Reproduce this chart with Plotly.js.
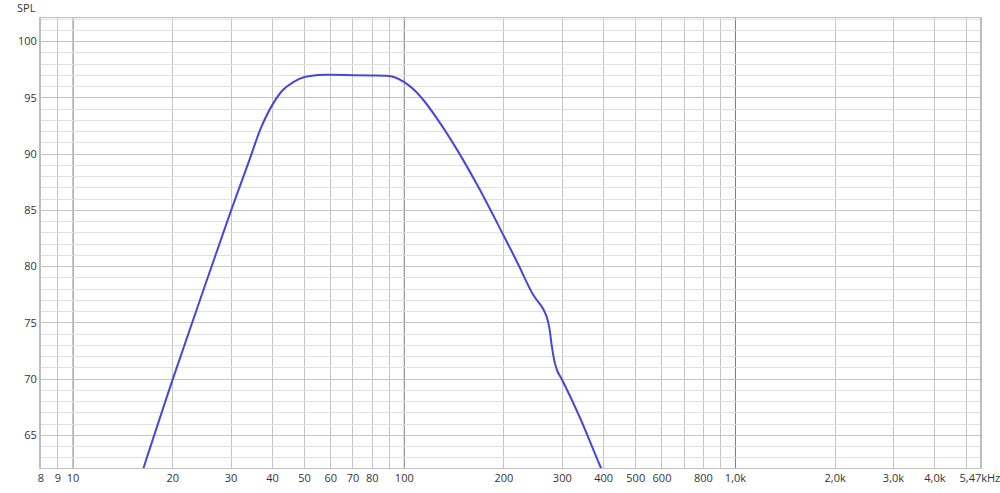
<!DOCTYPE html>
<html>
<head>
<meta charset="utf-8">
<script src="https://cdn.plot.ly/plotly-3.0.1.min.js"></script>
<style>html,body{margin:0;padding:0;background:#fff;}#chart{width:1000px;height:493px;}</style>
</head>
<body>
<div id="chart"></div>
<script>
// Frequency (Hz) and SPL (dB)
const freq = [15, 20, 25, 30, 34, 37, 40, 43, 46.5, 50, 55, 60, 70, 80, 88, 93, 100, 107, 115, 128, 147, 169, 200, 220, 245, 262, 269, 274, 279, 284, 290, 300, 340, 390, 420];
const spl  = [58.8, 70.0, 78.3, 85.0, 89.4, 92.4, 94.4, 95.7, 96.45, 96.85, 97.03, 97.05, 97.02, 97.0, 96.97, 96.85, 96.4, 95.72, 94.7, 92.8, 90.0, 86.85, 82.7, 80.3, 77.5, 76.3, 75.55, 74.6, 72.9, 71.6, 70.7, 69.9, 66.5, 62.3, 60.2];

// Axis tick labels
const xTickVals = [8, 9, 10, 20, 30, 40, 50, 60, 70, 80, 100, 200, 300, 400, 500, 600, 800, 1000, 2000, 3000, 4000, 5470];
const xTickText = ['8', '9', '10', '20', '30', '40', '50', '60', '70', '80', '100', '200', '300', '400', '500', '600', '800', '1,0k', '2,0k', '3,0k', '4,0k', '5,47kHz'];
const xMinorGrid = [9, 20, 30, 40, 50, 60, 70, 80, 90, 200, 300, 400, 500, 600, 700, 800, 900, 2000, 3000, 4000, 5000];
const decadeLines = [10, 100, 1000];
const xMin = 8, xMax = 5470;
const yMin = 62.1, yMax = 102.1;

const font = {family: '"Open Sans", "DejaVu Sans", sans-serif', size: 11, color: '#333333'};

const trace = {
  x: freq, y: spl, type: 'scatter', mode: 'lines',
  line: {color: '#4646d8', width: 2, shape: 'spline', smoothing: 1},
  hoverinfo: 'skip', showlegend: false
};

const shapes = decadeLines.map(v => ({
  type: 'line', xref: 'x', yref: 'paper', x0: v, x1: v, y0: 0, y1: 1,
  line: {color: '#7a7a7a', width: 1}, layer: 'below'
}));

const layout = {
  width: 1000, height: 493,
  margin: {l: 41, r: 20, t: 18, b: 25, pad: 0},
  paper_bgcolor: '#ffffff', plot_bgcolor: '#ffffff',
  font: font,
  showlegend: false,
  xaxis: {
    type: 'log', range: [Math.log10(xMin), Math.log10(xMax) + 0.0004],
    tickmode: 'array', tickvals: xTickVals, ticktext: xTickText,
    showgrid: false, zeroline: false, ticks: '', ticklen: 0,
    ticklabeloverflow: 'allow',
    showline: true, mirror: true, linecolor: '#c0c0c0', linewidth: 1,
    tickfont: font,
    minor: {tickmode: 'array', tickvals: xMinorGrid, showgrid: true, gridcolor: '#c4c4c4', gridwidth: 1, ticks: ''}
  },
  yaxis: {
    range: [yMin, yMax], tick0: 0, dtick: 5,
    showgrid: true, gridcolor: '#c4c4c4', gridwidth: 1, zeroline: false,
    ticks: '', ticklen: 4, tickcolor: 'rgba(0,0,0,0)',
    showline: true, mirror: true, linecolor: '#bdbdbd', linewidth: 2,
    tickfont: font,
    minor: {dtick: 1, showgrid: true, gridcolor: '#e0e0e0', gridwidth: 1, ticks: ''}
  },
  shapes: shapes,
  annotations: [{
    text: 'SPL', xref: 'paper', yref: 'paper', x: 0, y: 1,
    xanchor: 'right', yanchor: 'bottom', xshift: -3, yshift: 1,
    showarrow: false, font: font
  }]
};

Plotly.newPlot('chart', [trace], layout, {displayModeBar: false, staticPlot: true});
</script>
</body>
</html>
